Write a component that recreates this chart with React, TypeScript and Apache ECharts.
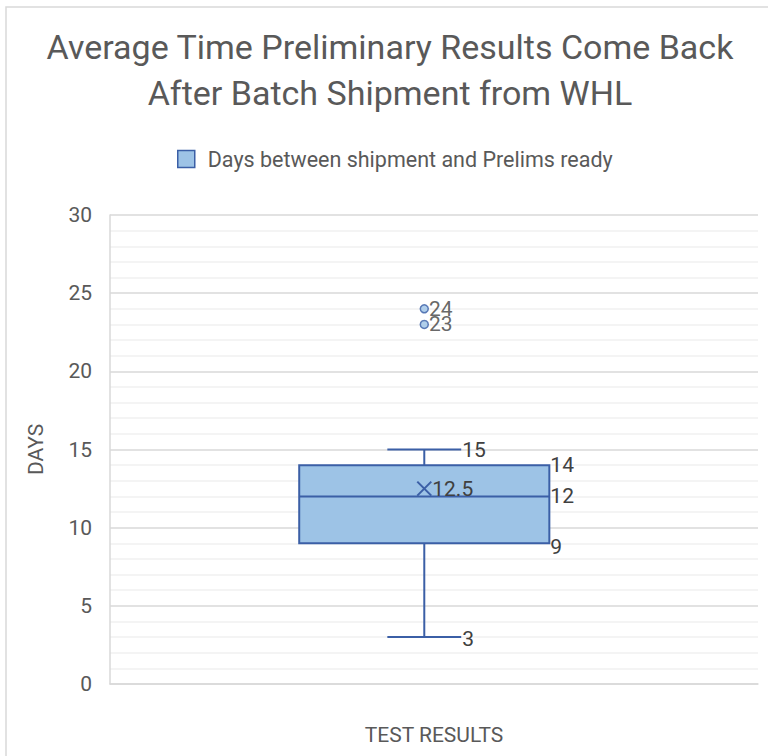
import React, { useEffect, useRef } from "react";
import * as echarts from "echarts";

const titleLines = ["Average Time Preliminary Results Come Back", "After Batch Shipment from WHL"];
const seriesName = "Days between shipment and Prelims ready";
const xRange = [-0.485, 0.515];
const yTicks = [0, 5, 10, 15, 20, 25, 30];
// [category index, min, q1, median, q3, max, mean]
const boxStats = [[0, 3, 9, 12, 14, 15, 12.5]];
const outliers = [[0, 24], [0, 23]];

const FONT = "Roboto, 'Liberation Sans', sans-serif";
const BLUE = "#3b5fa6";
const FILL = "#9dc3e6";
const LABEL = "#404040";

export default function App() {
  const ref = useRef<HTMLDivElement>(null);
  useEffect(() => {
    if (!ref.current) return;
    const chart = echarts.init(ref.current, undefined, { renderer: "svg" });
    const labelFont = `21px ${FONT}`;
    chart.setOption({
      animation: false,
      backgroundColor: "#ffffff",
      title: {
        text: titleLines.join("\n"),
        left: 385,
        textAlign: "center",
        top: 19,
        textStyle: { fontFamily: FONT, fontSize: 34, fontWeight: "normal", color: "#595959", lineHeight: 46 },
      },
      legend: {
        top: 143,
        left: 172,
        itemWidth: 17,
        itemHeight: 17,
        itemGap: 10,
        textStyle: { fontFamily: FONT, fontSize: 21.5, color: "#595959", padding: [0, 0, 0, 8] },
        data: [{ name: seriesName, icon: "rect", itemStyle: { color: FILL, borderColor: BLUE, borderWidth: 1.5 } }],
      },
      graphic: [
        { type: "rect", shape: { x: 6, y: 7, width: 800, height: 800 }, style: { fill: "none", stroke: "#d9d9d9", lineWidth: 1.5 }, silent: true, z: -10 },
      ],
      grid: { left: 110, right: 10, top: 215, bottom: 72, outerBoundsMode: "none", containLabel: false },
      xAxis: {
        type: "value",
        min: xRange[0],
        max: xRange[1],
        name: "TEST RESULTS",
        nameLocation: "middle",
        nameGap: 40,
        nameTextStyle: { fontFamily: FONT, fontSize: 21, color: "#595959" },
        axisLine: { show: true, onZero: false, lineStyle: { color: "#d9d9d9", width: 1.5 } },
        axisTick: { show: false },
        axisLabel: { show: false },
        splitLine: { show: false },
      },
      yAxis: {
        type: "value",
        min: yTicks[0],
        max: yTicks[yTicks.length - 1],
        interval: 5,
        name: "DAYS",
        nameLocation: "middle",
        nameGap: 64,
        nameRotate: 90,
        nameTextStyle: { fontFamily: FONT, fontSize: 21, color: "#595959" },
        axisLine: { show: true, onZero: false, lineStyle: { color: "#d9d9d9", width: 1.5 } },
        axisTick: { show: false },
        axisLabel: { fontFamily: FONT, fontSize: 21, color: "#595959", margin: 18 },
        splitLine: { lineStyle: { color: "#d9d9d9", width: 1.5 } },
        minorTick: { show: false, splitNumber: 5 },
        minorSplitLine: { show: true, lineStyle: { color: "#f0f0f0", width: 1.5 } },
      },
      series: [
        {
          name: seriesName,
          type: "custom",
          data: boxStats,
          encode: { x: 0, y: [1, 2, 3, 4, 5] },
          itemStyle: { color: FILL, borderColor: BLUE },
          renderItem: (params: any, api: any) => {
            const c = api.value(0);
            const mn = api.value(1), q1 = api.value(2), md = api.value(3), q3 = api.value(4), mx = api.value(5), mean = api.value(6);
            const band = api.size([1, 0])[0];
            const bw = band * 0.386;
            const cw = band * 0.114;
            const pMin = api.coord([c, mn]);
            const pQ1 = api.coord([c, q1]);
            const pMd = api.coord([c, md]);
            const pQ3 = api.coord([c, q3]);
            const pMx = api.coord([c, mx]);
            const pMean = api.coord([c, mean]);
            const cx = pMd[0];
            const lineStyle = { stroke: BLUE, lineWidth: 2, fill: "none" };
            const txt = (text: string, x: number, y: number) => ({
              type: "text",
              style: { text, x, y, fill: LABEL, font: labelFont, align: "left", verticalAlign: "middle" },
            });
            const m = 7;
            return {
              type: "group",
              children: [
                { type: "line", shape: { x1: cx, y1: pQ3[1], x2: cx, y2: pMx[1] }, style: lineStyle },
                { type: "line", shape: { x1: cx, y1: pQ1[1], x2: cx, y2: pMin[1] }, style: lineStyle },
                { type: "line", shape: { x1: cx - cw / 2, y1: pMx[1], x2: cx + cw / 2, y2: pMx[1] }, style: lineStyle },
                { type: "line", shape: { x1: cx - cw / 2, y1: pMin[1], x2: cx + cw / 2, y2: pMin[1] }, style: lineStyle },
                {
                  type: "rect",
                  shape: { x: cx - bw / 2, y: pQ3[1], width: bw, height: pQ1[1] - pQ3[1] },
                  style: { fill: FILL, stroke: BLUE, lineWidth: 2 },
                },
                { type: "line", shape: { x1: cx - bw / 2, y1: pMd[1], x2: cx + bw / 2, y2: pMd[1] }, style: lineStyle },
                { type: "line", shape: { x1: cx - m, y1: pMean[1] - m, x2: cx + m, y2: pMean[1] + m }, style: lineStyle },
                { type: "line", shape: { x1: cx - m, y1: pMean[1] + m, x2: cx + m, y2: pMean[1] - m }, style: lineStyle },
                txt(String(mx), cx + cw / 2 + 1, pMx[1]),
                txt(String(mn), cx + cw / 2 + 1, pMin[1] + 2),
                txt(String(q3), cx + bw / 2 + 1, pQ3[1]),
                txt(String(md), cx + bw / 2 + 1, pMd[1]),
                txt(String(q1), cx + bw / 2 + 1, pQ1[1] + 4),
                txt(String(mean), cx + 8, pMean[1]),
              ],
            };
          },
          z: 3,
        },
        {
          name: seriesName,
          type: "scatter",
          data: outliers,
          symbol: "circle",
          symbolSize: 8,
          itemStyle: { color: FILL, borderColor: BLUE, borderWidth: 1.5 },
          label: {
            show: true,
            position: "right",
            distance: 0,
            formatter: (p: any) => String(p.value[1]),
            fontFamily: FONT,
            fontSize: 21,
            lineHeight: 15,
            color: LABEL,
          },
          z: 4,
        },
      ],
    });
    return () => chart.dispose();
  }, []);
  return <div ref={ref} style={{ width: 768, height: 756, position: "absolute", left: 0, top: 0 }} />;
}
